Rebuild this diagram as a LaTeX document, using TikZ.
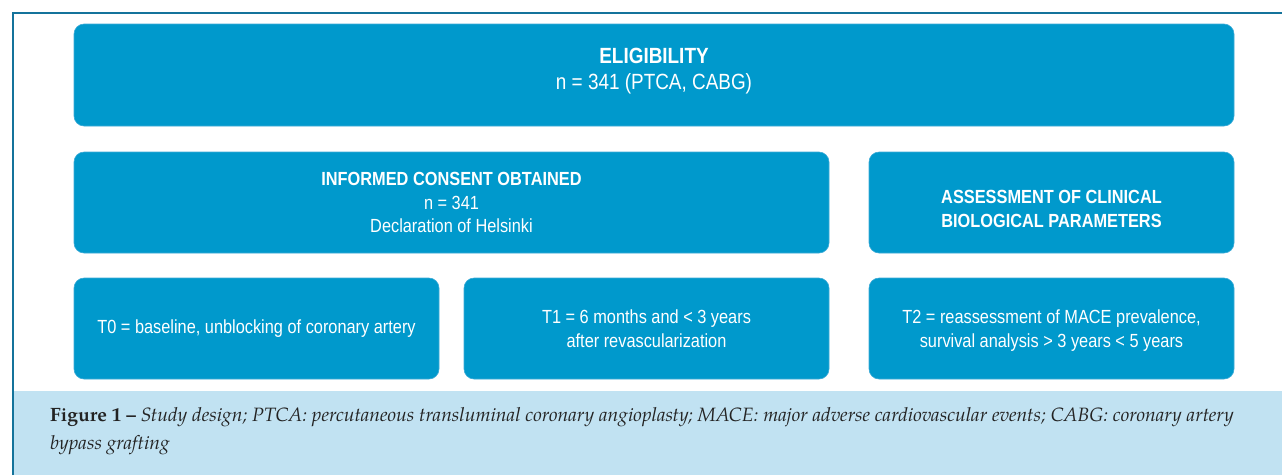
\documentclass[tikz,border=0pt]{standalone}
\usepackage{fontspec}
\setmainfont{Liberation Sans}
\newfontfamily\boxfont[FakeStretch=0.86]{Liberation Sans}
\newfontfamily\capfont{TeX Gyre Pagella}
\definecolor{boxblue}{RGB}{0,153,204}
\definecolor{boxedge}{RGB}{60,170,215}
\definecolor{frameblue}{RGB}{20,115,155}
\definecolor{capbg}{RGB}{193,226,242}
\definecolor{captext}{RGB}{35,35,35}
\begin{document}
\begin{tikzpicture}[x=1pt,y=-1pt,
  box/.style={fill=boxblue, draw=boxedge, line width=0.6pt, rounded corners=10pt,
    inner sep=0pt, align=center, text=white,
    font=\boxfont\fontsize{19}{23.5}\selectfont},
  captxt/.style={anchor=base west, inner sep=0pt, text=captext,
    font=\capfont\fontsize{19.3}{28}\selectfont}]
\useasboundingbox (0,0) rectangle (1282,475);
\fill[capbg] (14,391) rectangle (1282,475);
\draw[frameblue, line width=2pt] (13,475) -- (13,13) -- (1282,13);

\node[box, minimum width=1160pt, minimum height=102pt,
  font=\boxfont\fontsize{22}{26}\selectfont] (elig) at (654,75)
  {\textbf{ELIGIBILITY}\\ n = 341 (PTCA, CABG)\rule[-13pt]{0pt}{13pt}};
\node[box, minimum width=755pt, minimum height=101pt] (consent) at (451.5,202.5)
  {\textbf{INFORMED CONSENT OBTAINED}\\ n = 341\\ Declaration of Helsinki};
\node[box, minimum width=365pt, minimum height=101pt] (assess) at (1051.5,202.5)
  {\rule{0pt}{26pt}\textbf{ASSESSMENT OF CLINICAL}\\ \textbf{BIOLOGICAL PARAMETERS}};
\node[box, minimum width=365pt, minimum height=101pt] (t0) at (256.5,328.5)
  {T0 = baseline, unblocking of coronary artery};
\node[box, minimum width=365pt, minimum height=101pt] (t1) at (646.5,328.5)
  {T1 = 6 months and < 3 years\\ after revascularization};
\node[box, minimum width=365pt, minimum height=101pt] (t2) at (1051.5,328.5)
  {\rule{0pt}{18pt}T2 = reassessment of MACE prevalence,\\ survival analysis > 3 years < 5 years};

\node[captxt] (cap1) at (50,421) {\textbf{Figure 1 –} \textit{Study design; PTCA: percutaneous transluminal coronary angioplasty; MACE: major adverse cardiovascular events; CABG: coronary artery}};
\node[captxt] (cap2) at (50,449) {\textit{bypass grafting}};
\end{tikzpicture}
\end{document}
